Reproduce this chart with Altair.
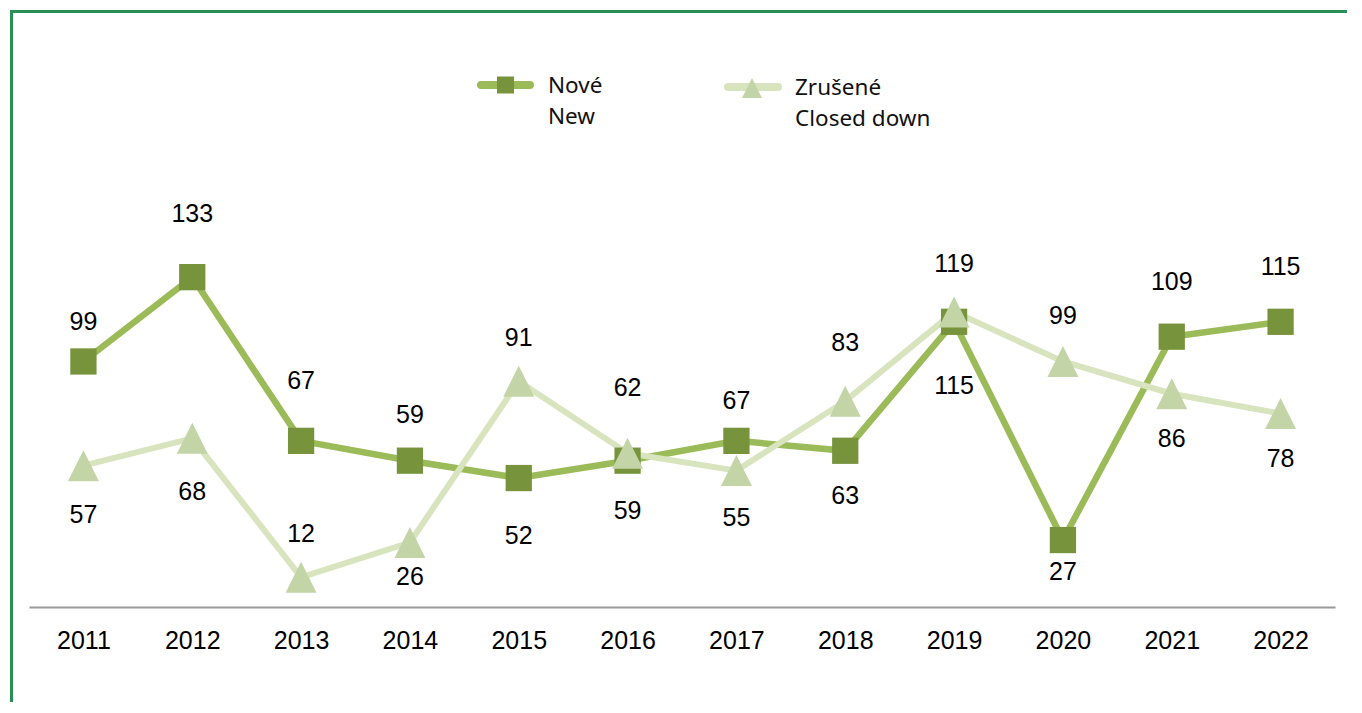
import altair as alt
import pandas as pd

# ---- data ----
years = [str(y) for y in range(2011, 2023)]
new_values = [99, 133, 67, 59, 52, 59, 67, 63, 115, 27, 109, 115]
closed_values = [57, 68, 12, 26, 91, 62, 55, 83, 119, 99, 86, 78]
# label offsets (pixels, negative = above the marker)
new_label_dy = [-39, -63, -60, -46, 58, 50, -40, 45, 64, 32, -55, -55]
closed_label_dy = [49, 54, -43, 34, -43, -65, 47, -58, -48, -45, 45, 45]

series_new = "Nové"
series_closed = "Zrušené"

# ---- layout ----
W, H = 1306, 496
Y_MAX = 200
PX = H / Y_MAX
FONT = "Liberation Sans"
LEG_FONT = "Noto Sans"

NEW_LINE = "#9BBB59"
NEW_MARK = "#77933C"
CL_LINE = "#D7E4BD"
CL_MARK = "#C3D5A6"
TRI = "M0,-1L1,1L-1,1Z"

rows = []
for i, y in enumerate(years):
    rows.append({"year": y, "series": series_new, "value": new_values[i],
                 "label_pos": new_values[i] - new_label_dy[i] / PX})
    rows.append({"year": y, "series": series_closed, "value": closed_values[i],
                 "label_pos": closed_values[i] - closed_label_dy[i] / PX})
df = pd.DataFrame(rows)

xenc = alt.X("year:O", scale=alt.Scale(type="point", padding=0.5),
             axis=alt.Axis(title=None, labelAngle=0, ticks=False, tickSize=0,
                           domainColor="#999999", domainWidth=2,
                           labelFont=FONT, labelFontSize=25, labelColor="black",
                           labelPadding=21, grid=False))
yscale = alt.Scale(domain=[0, Y_MAX], nice=False, zero=True)
yenc = alt.Y("value:Q", scale=yscale, axis=None)

base = alt.Chart(df)
new_df = base.transform_filter(alt.datum.series == series_new)
cl_df = base.transform_filter(alt.datum.series == series_closed)

new_line = new_df.mark_line(color=NEW_LINE, strokeWidth=6.5).encode(x=xenc, y=yenc)
cl_line = cl_df.mark_line(color=CL_LINE, strokeWidth=6).encode(x=xenc, y=yenc)
new_pts = new_df.mark_point(shape="square", filled=True, size=690, opacity=1,
                            color=NEW_MARK).encode(x=xenc, y=yenc)
cl_pts = cl_df.mark_point(shape=TRI, filled=True, size=961, opacity=1,
                          color=CL_MARK).encode(x=xenc, y=yenc)
labels = base.mark_text(font=FONT, fontSize=25, color="black",
                        baseline="middle", align="center").encode(
    x=xenc, y=alt.Y("label_pos:Q", scale=yscale, axis=None), text="value:Q")

one = alt.Data(values=[{"k": 1}])
frame = alt.Chart(one).mark_rect(fillOpacity=0, stroke="#2A8F55", strokeWidth=3).encode(
    x=alt.value(-17.5), x2=alt.value(2000), y=alt.value(-99.5), y2=alt.value(2000))

leg_new_line = alt.Chart(one).mark_rule(color=NEW_LINE, strokeWidth=8, strokeCap="round").encode(
    x=alt.value(452), x2=alt.value(501), y=alt.value(-26))
leg_new_pt = alt.Chart(one).mark_point(shape="square", filled=True, size=289, opacity=1,
                                       color=NEW_MARK).encode(x=alt.value(476.5), y=alt.value(-26))
leg_new_txt = alt.Chart(one).mark_text(font=LEG_FONT, fontSize=22.5, color="#111111",
                                       align="left", baseline="alphabetic",
                                       lineBreak="\n", lineHeight=31.6).encode(
    x=alt.value(519), y=alt.value(-18.3), text=alt.value("Nové\nNew"))

leg_cl_line = alt.Chart(one).mark_rule(color=CL_LINE, strokeWidth=8, strokeCap="round").encode(
    x=alt.value(699), x2=alt.value(749), y=alt.value(-24))
leg_cl_pt = alt.Chart(one).mark_point(shape=TRI, filled=True, size=400, opacity=1,
                                      color=CL_MARK).encode(x=alt.value(723), y=alt.value(-23))
leg_cl_txt = alt.Chart(one).mark_text(font=LEG_FONT, fontSize=22.5, color="#111111",
                                      align="left", baseline="alphabetic",
                                      lineBreak="\n", lineHeight=31).encode(
    x=alt.value(766), y=alt.value(-16), text=alt.value("Zrušené\nClosed down"))

chart = alt.layer(
    frame, new_line, cl_line, new_pts, cl_pts, labels,
    leg_new_line, leg_new_pt, leg_new_txt, leg_cl_line, leg_cl_pt, leg_cl_txt
).properties(
    width=W, height=H,
    autosize=alt.AutoSizeParams(type="none"),
    padding={"left": 21, "top": 103, "right": 12, "bottom": 95},
    background="white",
).configure_view(stroke=None)

chart.save("out.html", embed_options={"renderer": "svg", "actions": False})
